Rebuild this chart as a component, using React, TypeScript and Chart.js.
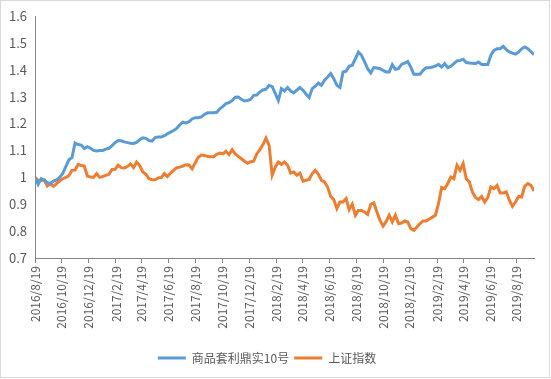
import React, { useEffect, useRef } from "react";
import { Chart, registerables } from "chart.js";

Chart.register(...registerables);

// Weekly observations (Fridays) starting 2016/8/19
const startDate = "2016/8/19";
const seriesNames = ["商品套利鼎实10号", "上证指数"];

const fundValues = [
  1.0, 0.974, 0.995, 0.99, 0.98, 0.977, 0.986, 0.99, 1.0, 1.014,
  1.04, 1.065, 1.073, 1.128, 1.122, 1.12, 1.107, 1.114, 1.108, 1.1,
  1.098, 1.1, 1.1, 1.105, 1.108, 1.118, 1.129, 1.137, 1.136, 1.132,
  1.129, 1.127, 1.126, 1.13, 1.14, 1.147, 1.145, 1.137, 1.135, 1.148,
  1.15, 1.15, 1.155, 1.162, 1.168, 1.174, 1.182, 1.195, 1.205, 1.202,
  1.207, 1.217, 1.222, 1.222, 1.225, 1.234, 1.24, 1.24, 1.24, 1.242,
  1.255, 1.264, 1.274, 1.278, 1.285, 1.298, 1.299, 1.29, 1.284, 1.286,
  1.29, 1.305, 1.306, 1.318, 1.325, 1.328, 1.342, 1.337, 1.312, 1.286,
  1.33, 1.321, 1.334, 1.321, 1.314, 1.324, 1.334, 1.324, 1.309, 1.297,
  1.33, 1.339, 1.351, 1.342, 1.361, 1.373, 1.386, 1.367, 1.342, 1.334,
  1.392, 1.395, 1.413, 1.417, 1.441, 1.466, 1.454, 1.429, 1.404, 1.388,
  1.408, 1.407, 1.404, 1.398, 1.392, 1.392, 1.419, 1.402, 1.404, 1.42,
  1.425, 1.431, 1.41, 1.383, 1.383, 1.383, 1.398, 1.408, 1.408, 1.41,
  1.414, 1.42, 1.41, 1.423, 1.408, 1.413, 1.423, 1.433, 1.435, 1.439,
  1.427, 1.425, 1.424, 1.423, 1.429, 1.42, 1.42, 1.42, 1.454, 1.472,
  1.478, 1.478, 1.487, 1.475, 1.466, 1.462, 1.458, 1.466, 1.478, 1.485,
  1.478, 1.468, 1.456,
];

const indexValues = [
  1.0, 0.988, 0.988, 0.99, 0.968, 0.976, 0.967, 0.977, 0.986, 0.995,
  1.0, 1.006, 1.026, 1.027, 1.048, 1.044, 1.042, 1.005, 1.001, 1.0,
  1.014, 1.0, 1.003, 1.007, 1.011, 1.029, 1.03, 1.045, 1.036, 1.035,
  1.04, 1.05, 1.036, 1.057, 1.044, 1.02, 1.011, 0.995, 0.991, 0.991,
  0.998, 0.999, 1.014, 1.003, 1.016, 1.026, 1.036, 1.038, 1.042, 1.047,
  1.046, 1.032, 1.053, 1.075, 1.083, 1.081, 1.078, 1.077, 1.077, 1.086,
  1.09, 1.087, 1.097, 1.085, 1.103, 1.087, 1.078, 1.069, 1.06, 1.052,
  1.058, 1.06, 1.087, 1.103, 1.122, 1.146, 1.119, 1.008, 1.038, 1.057,
  1.048, 1.057, 1.045, 1.016, 1.02, 1.008, 1.016, 0.986, 0.989, 0.992,
  1.014, 1.026, 1.011, 0.989, 0.983, 0.964, 0.929, 0.917, 0.884, 0.908,
  0.908, 0.921, 0.88, 0.9, 0.859, 0.877, 0.877, 0.871, 0.862, 0.9,
  0.905, 0.871, 0.84, 0.819, 0.836, 0.859, 0.834, 0.859, 0.828, 0.83,
  0.838, 0.834, 0.809, 0.803, 0.815, 0.828, 0.838, 0.838, 0.845, 0.852,
  0.859, 0.902, 0.962, 0.958, 0.977, 1.001, 0.995, 1.045, 1.026, 1.051,
  0.995, 0.983, 0.946, 0.925, 0.917, 0.929, 0.908, 0.925, 0.964, 0.958,
  0.97, 0.942, 0.942, 0.946, 0.915, 0.892, 0.908, 0.929, 0.927, 0.967,
  0.977, 0.97, 0.949,
];

const tickLabels = [
  "2016/8/19", "2016/10/19", "2016/12/19", "2017/2/19", "2017/4/19",
  "2017/6/19", "2017/8/19", "2017/10/19", "2017/12/19", "2018/2/19",
  "2018/4/19", "2018/6/19", "2018/8/19", "2018/10/19", "2018/12/19",
  "2019/2/19", "2019/4/19", "2019/6/19", "2019/8/19",
];

const yMin = 0.7;
const yMax = 1.6;
const yStep = 0.1;

const colors = ["#5B9BD5", "#ED7D31"];

const DAY = 86400000;
const parseDate = (s: string) => {
  const [y, m, d] = s.split("/").map(Number);
  return Date.UTC(y, m - 1, d);
};
const start = parseDate(startDate);
const dayOf = (s: string) => Math.round((parseDate(s) - start) / DAY);

export default function App() {
  const ref = useRef<HTMLCanvasElement>(null);

  useEffect(() => {
    if (!ref.current) return;
    const weeklyX = fundValues.map((_, i) => i * 7);
    const tickDays = tickLabels.map(dayOf);
    const lastDay = weeklyX[weeklyX.length - 1];
    const font = '"Noto Sans CJK SC", "Noto Sans", sans-serif';

    const chart = new Chart(ref.current, {
      type: "line",
      data: {
        datasets: [
          {
            label: seriesNames[0],
            data: fundValues.map((v, i) => ({ x: weeklyX[i], y: v })),
            borderColor: colors[0],
            backgroundColor: colors[0],
            borderWidth: 3,
            pointRadius: 0,
            tension: 0,
          },
          {
            label: seriesNames[1],
            data: indexValues.map((v, i) => ({ x: weeklyX[i], y: v })),
            borderColor: colors[1],
            backgroundColor: colors[1],
            borderWidth: 3,
            pointRadius: 0,
            tension: 0,
          },
        ],
      },
      options: {
        animation: false,
        responsive: false,
        maintainAspectRatio: false,
        layout: { padding: { top: 16, right: 17, bottom: 5, left: 0 } },
        plugins: {
          tooltip: { enabled: false },
          legend: {
            position: "bottom",
            labels: {
              usePointStyle: true,
              pointStyle: "line",
              pointStyleWidth: 28,
              boxHeight: 12,
              padding: 5,
              color: "#595959",
              font: { family: font, size: 12 },
            },
          },
        },
        scales: {
          x: {
            type: "linear",
            min: 0,
            max: lastDay,
            afterBuildTicks: (scale: any) => {
              scale.ticks = tickDays.map((v) => ({ value: v }));
            },
            afterFit: (scale: any) => {
              scale.height = 89;
            },
            ticks: {
              autoSkip: false,
              minRotation: 90,
              maxRotation: 90,
              padding: 3,
              color: "#595959",
              font: { family: font, size: 12 },
              callback: (_v: any, i: number) => tickLabels[i],
            },
            grid: {
              display: true,
              drawOnChartArea: false,
              drawTicks: true,
              tickLength: 5,
              color: "#868686",
              lineWidth: 1,
            },
            border: { display: true, color: "#868686", width: 1 },
          },
          y: {
            min: yMin,
            max: yMax,
            afterBuildTicks: (scale: any) => {
              const t = [];
              for (let k = 0; k <= Math.round((yMax - yMin) / yStep); k++) {
                t.push({ value: +(yMin + k * yStep).toFixed(1) });
              }
              scale.ticks = t;
            },
            afterFit: (scale: any) => {
              scale.width = 35;
            },
            ticks: {
              padding: 8,
              color: "#595959",
              font: { family: font, size: 13 },
              callback: (v: any) => String(+Number(v).toFixed(1)),
            },
            grid: { display: false, drawTicks: false },
            border: { display: true, color: "#868686", width: 1 },
          },
        },
      },
    });
    return () => chart.destroy();
  }, []);

  return (
    <div style={{ position: "fixed", left: 0, top: 0, width: 551, height: 379, background: "#fff" }}>
      <canvas ref={ref} width={551} height={379} style={{ position: "absolute", left: 0, top: 0 }} />
      <div
        style={{
          position: "absolute",
          left: 0,
          top: 0,
          width: 550,
          height: 378,
          border: "1px solid #d9d9d9",
          boxSizing: "border-box",
          pointerEvents: "none",
        }}
      />
    </div>
  );
}
